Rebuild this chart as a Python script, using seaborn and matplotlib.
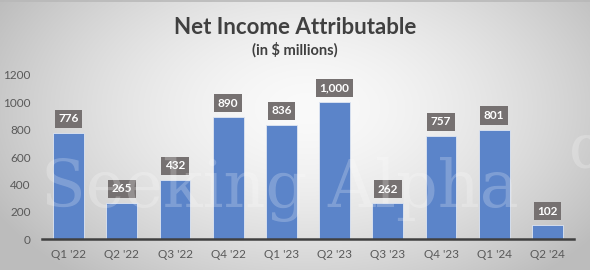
import numpy as np
import matplotlib
matplotlib.use("Agg")
import matplotlib.pyplot as plt
import seaborn as sns
import pandas as pd

quarters = ["Q1 '22", "Q2 '22", "Q3 '22", "Q4 '22", "Q1 '23", "Q2 '23", "Q3 '23", "Q4 '23", "Q1 '24", "Q2 '24"]
net_income = [776, 265, 432, 890, 836, 1000, 262, 757, 801, 102]
yticks = [0, 200, 400, 600, 800, 1000, 1200]

sns.set_style("white")
plt.rcParams['font.family'] = ['Lato', 'DejaVu Sans']

W, H = 590, 270
fig = plt.figure(figsize=(W/100, H/100), dpi=100)

# radial gradient background
bg = fig.add_axes([0, 0, 1, 1], zorder=-10)
yy, xx = np.mgrid[0:H, 0:W]
cx, cy = W*0.52, H*0.40
r = np.sqrt(((xx-cx)/(W*0.55))**2 + ((yy-cy)/(H*0.75))**2)
val = np.clip(0.98 - 0.21*r**1.6, 0.74, 0.98)
bg.imshow(np.dstack([val, val, val]), aspect='auto', extent=[0, 1, 0, 1])
bg.axhline(0.997, color='#b8b8b8', lw=1.2)
bg.set_axis_off()

ax = fig.add_axes([42/W, 1-239/H, (574-42)/W, (239-75)/H])
ax.patch.set_alpha(0)
df = pd.DataFrame({"q": quarters, "v": net_income})
sns.barplot(data=df, x="q", y="v", ax=ax, color="#5b84c9", saturation=1,
            width=0.58, edgecolor="#dfe6f2", linewidth=0.6)
ax.set_xlim(-0.5, 9.5)
ax.set_ylim(0, 1200)
ax.set_yticks(yticks)
ax.set_yticklabels([str(t) for t in yticks])
ax.set_xlabel("")
ax.set_ylabel("")
ax.tick_params(axis='both', length=0, labelsize=8.5, colors='#595959')
ax.tick_params(axis='y', pad=8)
ax.tick_params(axis='x', pad=7)
for s in ['left', 'right', 'top']:
    ax.spines[s].set_visible(False)
ax.spines['bottom'].set_color('#404040')
ax.spines['bottom'].set_linewidth(1.8)

for i, v in enumerate(net_income):
    ax.annotate(f"{v:,}", xy=(i, v), xytext=(0, 14), textcoords='offset pixels',
                ha='center', va='center', fontsize=8.5, fontweight='bold', color='white',
                bbox=dict(boxstyle='square,pad=0.3', fc='#767171', ec='none'))

# watermark
fig.text(0.475, 0.30, "Seeking Alpha", fontsize=47, color='white', alpha=0.22,
         ha='center', va='center', family='DejaVu Serif')
fig.text(0.965, 0.44, "α", fontsize=44, color='white', alpha=0.22,
         ha='left', va='center', family='DejaVu Serif')

fig.text(0.5, 1-27/H, "Net Income Attributable", ha='center', va='center',
         fontsize=16, fontweight='bold', color='#404040')
fig.text(0.5, 1-50/H, "(in $ millions)", ha='center', va='center',
         fontsize=10.5, fontweight='bold', color='#404040')

fig.savefig("out.png", dpi=100)
